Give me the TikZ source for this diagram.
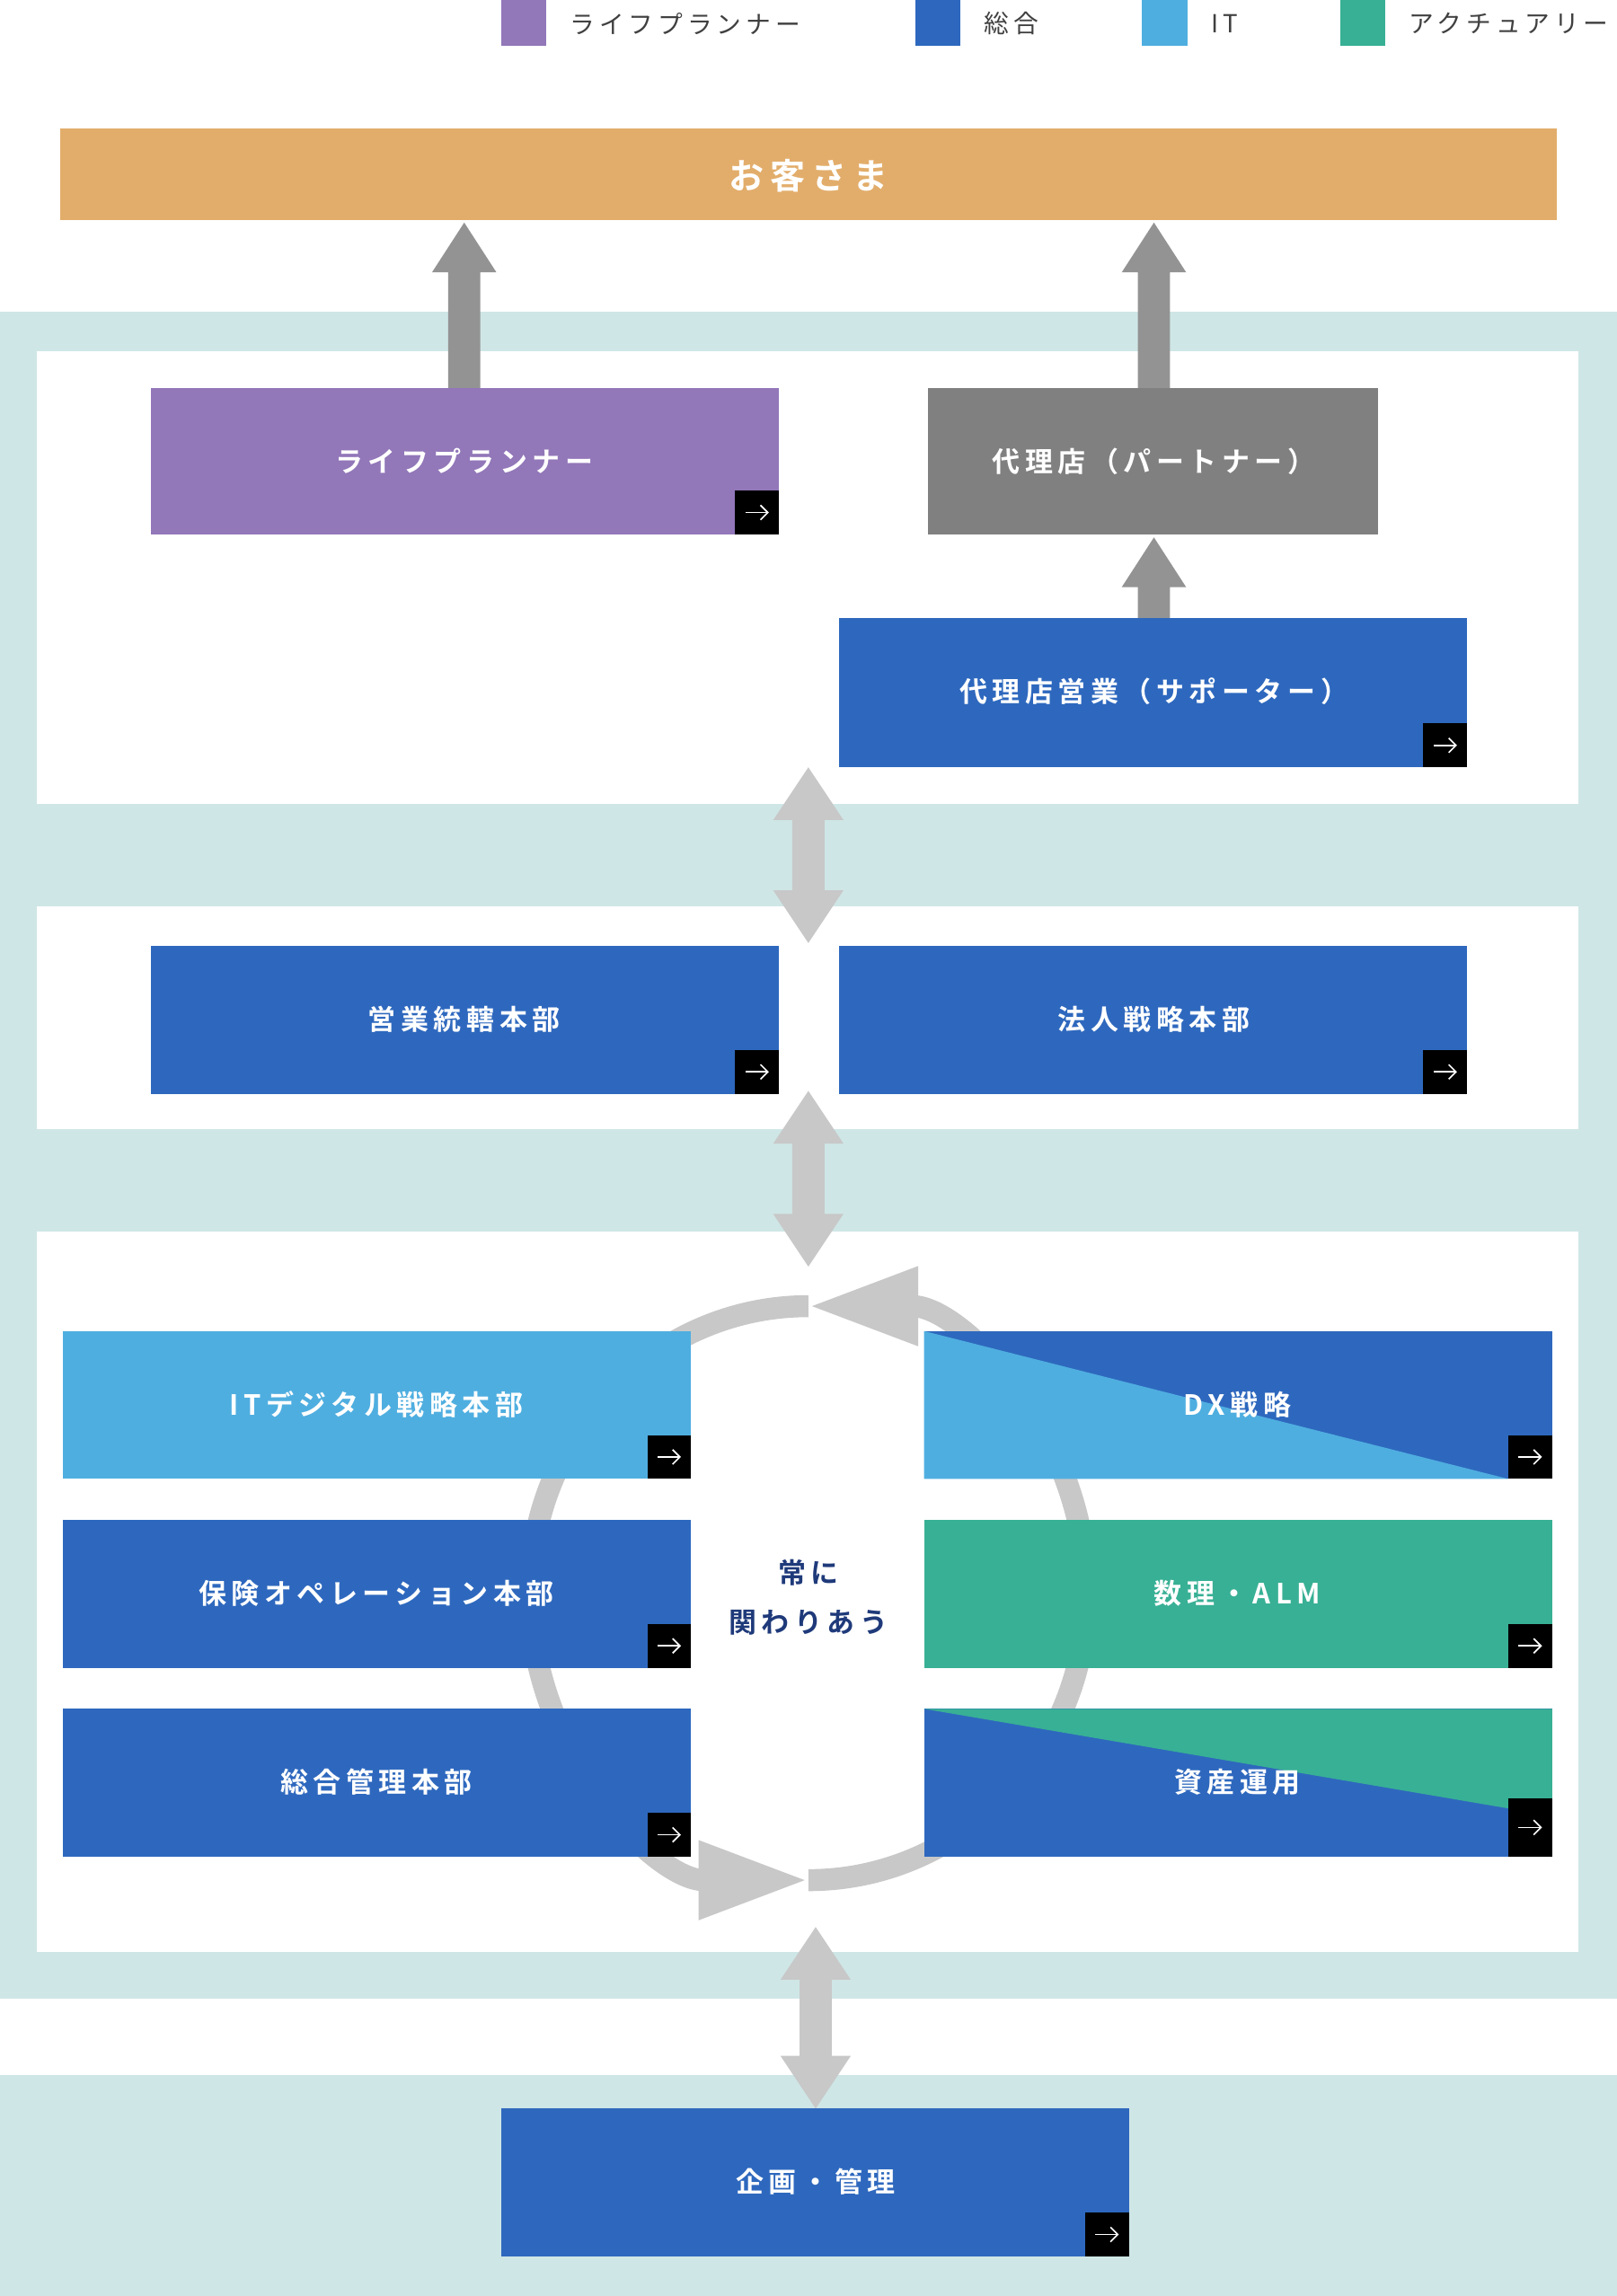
\documentclass[tikz,border=0pt]{standalone}
\usepackage{fontspec}
\usetikzlibrary{arrows.meta}
\newfontfamily\jp[LetterSpace=18,BoldFont={Noto Sans CJK JP Bold}]{Noto Sans CJK JP}
\definecolor{cPurple}{HTML}{9277B9}
\definecolor{cBlue}{HTML}{2E68BE}
\definecolor{cLight}{HTML}{4FAEE0}
\definecolor{cTeal}{HTML}{38B095}
\definecolor{cOrange}{HTML}{E2AD6B}
\definecolor{cBand}{HTML}{CFE6E6}
\definecolor{cGray}{HTML}{808080}
\definecolor{cArrow}{HTML}{939393}
\definecolor{cDbl}{HTML}{C8C8C8}
\definecolor{cText}{HTML}{1F3A7A}
\tikzset{
 box/.style={text=white,font=\jp\bfseries\fontsize{19}{22}\selectfont,inner sep=0},
 legt/.style={anchor=west,text=black!75,font=\jp\fontsize{17}{20}\selectfont,inner sep=0},
}
\newcommand{\ico}[2]{\fill[black] (#1-30,#2-30) rectangle (#1,#2);
 \draw[white,line width=1,-{Straight Barb[length=5,width=10]}] (#1-23,#2-15) -- (#1-7,#2-15);}
\newcommand{\uparr}[3]{\fill[cArrow] (#1-11,#2) -- (#1-11,#3+34) -- (#1-22,#3+34) -- (#1,#3) -- (#1+22,#3+34) -- (#1+11,#3+34) -- (#1+11,#2) -- cycle;}
\newcommand{\dblarr}[3]{\fill[cDbl] (#1,#2) -- (#1+24,#2+36) -- (#1+11,#2+36) -- (#1+11,#3-36) -- (#1+24,#3-36) -- (#1,#3) -- (#1-24,#3-36) -- (#1-11,#3-36) -- (#1-11,#2+36) -- (#1-24,#2+36) -- cycle;}
\begin{document}
\begin{tikzpicture}[x=1pt,y=-1pt]
\useasboundingbox (0,0) rectangle (1104,1568);
\fill[white] (0,0) rectangle (1104,1568);
% legend
\fill[cPurple] (342,0) rectangle (373,31); \node[legt] (l1) at (389,16) {ライフプランナー};
\fill[cBlue] (625,0) rectangle (656,31); \node[legt] (l2) at (672,16) {総合};
\fill[cLight] (780,0) rectangle (811,31); \node[legt] (l3) at (827,16) {IT};
\fill[cTeal] (915,0) rectangle (946,31); \node[legt] (l4) at (962,16) {アクチュアリー};
% customer
\fill[cOrange] (41,88) rectangle (1063,150);
\node[box,font=\jp\bfseries\fontsize{24}{28}\selectfont] (cust) at (552,120) {お客さま};
% bands
\fill[cBand] (0,213) rectangle (1104,1365);
\fill[cBand] (0,1417) rectangle (1104,1568);
\fill[white] (25,240) rectangle (1078,549);
\fill[white] (25,619) rectangle (1078,771);
\fill[white] (25,841) rectangle (1078,1333);
% arrows up
\uparr{317}{266}{152}
\uparr{788}{266}{152}
\uparr{788}{423}{367}
% top boxes
\fill[cPurple] (103,265) rectangle (532,365); \node[box] (lp) at (317,315) {ライフプランナー}; \ico{532}{365}
\fill[cGray] (634,265) rectangle (941,365); \node[box] (ag) at (788,315) {代理店（パートナー）};
\fill[cBlue] (573,422) rectangle (1002,524); \node[box] (ags) at (788,472) {代理店営業（サポーター）}; \ico{1002}{524}
\fill[cBlue] (103,646) rectangle (532,747); \node[box] (eig) at (317,696) {営業統轄本部}; \ico{532}{747}
\fill[cBlue] (573,646) rectangle (1002,747); \node[box] (hoj) at (788,696) {法人戦略本部}; \ico{1002}{747}
% double arrows
\dblarr{552}{524}{644}
\dblarr{552}{745}{865}
\dblarr{557}{1316}{1440}
% cycle
\draw[cDbl,line width=15,-{Triangle[width=50,length=75]}] (552,892) arc[start angle=-90,end angle=-270,x radius=190,y radius=196];
\draw[cDbl,line width=15,-{Triangle[width=50,length=75]}] (552,1284) arc[start angle=90,end angle=-90,x radius=190,y radius=196];
\node[text=cText,font=\jp\bfseries\fontsize{19}{22}\selectfont,align=center,inner sep=0] (center) at (552,1091) {常に\\[12pt]関わりあう};
% left group
\fill[cLight] (43,909) rectangle (472,1010); \node[box] (it) at (257,959) {ITデジタル戦略本部}; \ico{472}{1010}
\fill[cBlue] (43,1038) rectangle (472,1139); \node[box] (ops) at (257,1088) {保険オペレーション本部}; \ico{472}{1139}
\fill[cBlue] (43,1167) rectangle (472,1268); \node[box] (gen) at (257,1217) {総合管理本部}; \ico{472}{1268}
% right group
\fill[cBlue] (631,909) rectangle (1060,1010);
\fill[cLight] (631,909) -- (1030,1010) -- (631,1010) -- cycle;
\node[box] (dx) at (845,959) {DX戦略}; \ico{1060}{1010}
\fill[cTeal] (631,1038) rectangle (1060,1139); \node[box] (alm) at (845,1088) {数理・ALM}; \ico{1060}{1139}
\fill[cBlue] (631,1167) rectangle (1060,1268);
\fill[cTeal] (631,1167) -- (1060,1167) -- (1060,1240) -- (1030,1235) -- cycle;
\node[box] (asset) at (845,1217) {資産運用};
\fill[black] (1030,1228) rectangle (1060,1268);
\draw[white,line width=1,-{Straight Barb[length=5,width=10]}] (1037,1248) -- (1053,1248);
% bottom
\fill[cBlue] (342,1440) rectangle (771,1541); \node[box] (plan) at (557,1490) {企画・管理}; \ico{771}{1541}
\end{tikzpicture}
\end{document}
